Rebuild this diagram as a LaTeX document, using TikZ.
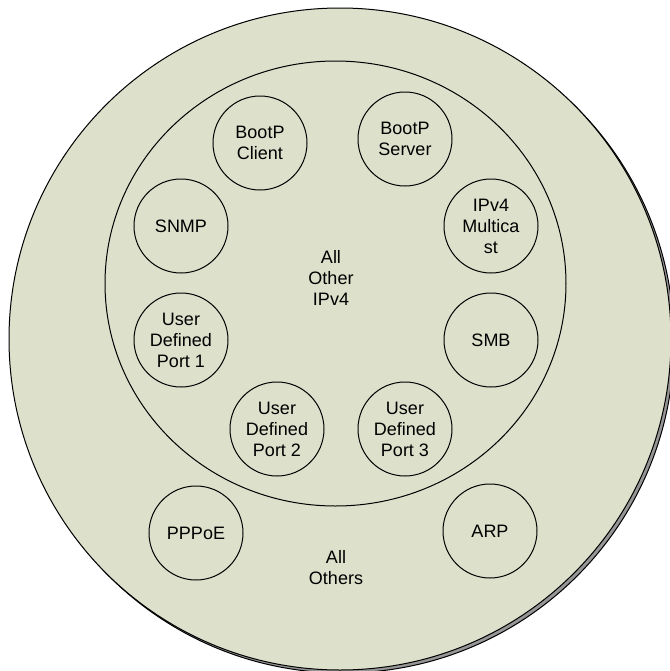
\documentclass[tikz,border=0pt]{standalone}
\usepackage{fontspec}
\setmainfont{Liberation Sans}
\definecolor{sage}{RGB}{221,224,203}
\definecolor{shade}{RGB}{150,150,150}
\tikzset{
  proto/.style={circle, draw, minimum size=47pt, inner sep=0pt, align=center,
    font=\fontsize{9}{10.5}\selectfont},
  zone/.style={align=center, font=\fontsize{9}{10.5}\selectfont}
}
\begin{document}
\begin{tikzpicture}[x=0.5pt, y=-0.5pt, line width=0.5pt]
  \useasboundingbox (0,0) rectangle (670,671);
  % outer ring with its shadow
  \draw[fill=shade] (343,342) circle[radius=331];
  \draw[fill=sage] (340,339) circle[radius=331];
  % inner ring
  \draw (335.5,283.5) ellipse[x radius=230.5, y radius=222.5];
  % IPv4 protocols
  \node[proto] (bootpc) at (260,143) {BootP\\Client};
  \node[proto] (bootps) at (405,139) {BootP\\Server};
  \node[proto] (snmp) at (181,226) {SNMP};
  \node[proto] (mcast) at (491,226) {IPv4\\Multica\\st};
  \node[proto] (udp1) at (181,340) {User\\Defined\\Port 1};
  \node[proto] (smb) at (491,340) {SMB};
  \node[proto] (udp2) at (277,429) {User\\Defined\\Port 2};
  \node[proto] (udp3) at (405,429) {User\\Defined\\Port 3};
  \node[zone] (otheripv4) at (331,278) {All\\Other\\IPv4};
  % non-IPv4
  \node[proto] (pppoe) at (196,533) {PPPoE};
  \node[proto] (arp) at (490,531) {ARP};
  \node[zone] (others) at (336,568) {All\\Others};
\end{tikzpicture}
\end{document}
